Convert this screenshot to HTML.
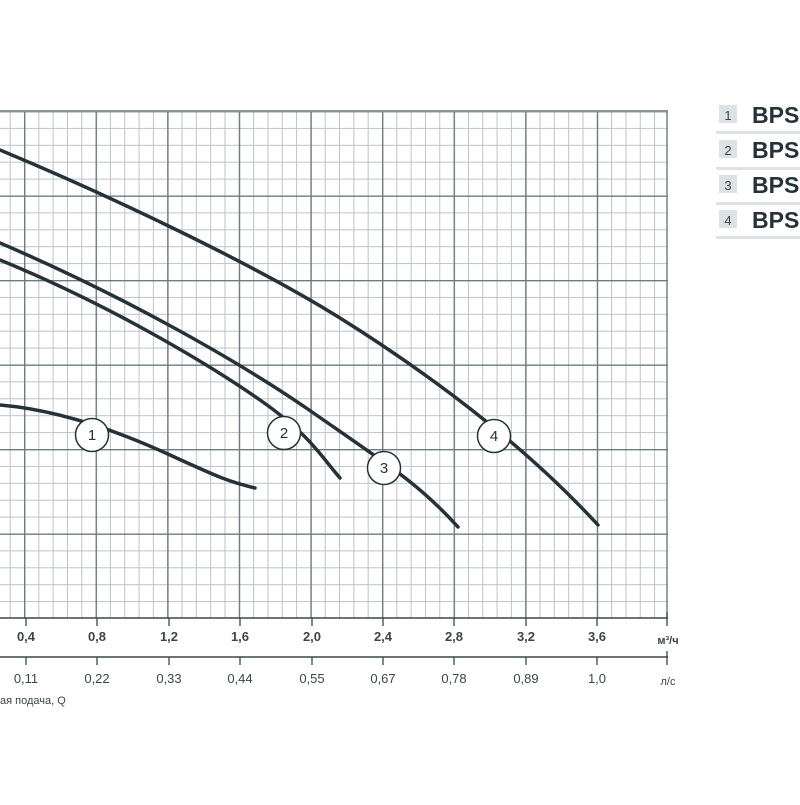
<!DOCTYPE html><html><head><meta charset="utf-8"><style>body{margin:0;background:#fff;width:800px;height:800px;overflow:hidden}</style></head><body>
<svg width="800" height="800" xmlns="http://www.w3.org/2000/svg" font-family="Liberation Sans, DejaVu Sans, sans-serif">
<defs>
<pattern id="minor" patternUnits="userSpaceOnUse" x="9.68" y="111" width="14.32" height="16.9">
<line x1="0.5" y1="0" x2="0.5" y2="16.9" stroke="#bcc3c6" stroke-width="1"/>
<line x1="0" y1="0.5" x2="14.32" y2="0.5" stroke="#bcc3c6" stroke-width="1"/>
</pattern>
<pattern id="major" patternUnits="userSpaceOnUse" x="24" y="111" width="71.6" height="84.5">
<line x1="0.7" y1="0" x2="0.7" y2="84.5" stroke="#6f7b7f" stroke-width="1.4"/>
<line x1="0" y1="0.7" x2="71.6" y2="0.7" stroke="#6f7b7f" stroke-width="1.4"/>
</pattern>
</defs>
<rect x="0" y="111" width="668" height="507" fill="url(#minor)"/>
<rect x="0" y="111" width="668" height="507" fill="url(#major)"/>
<line x1="667" y1="111" x2="667" y2="618" stroke="#6f7b7f" stroke-width="1.4"/>
<line x1="0" y1="111" x2="668" y2="111" stroke="#8a9496" stroke-width="2"/>
<line x1="0" y1="618" x2="668" y2="618" stroke="#3c4649" stroke-width="1.5"/>
<line x1="0" y1="657" x2="668" y2="657" stroke="#3c4649" stroke-width="1.5"/>
<g stroke="#3c4649" stroke-width="1.3">
<line x1="26" y1="618" x2="26" y2="626"/><line x1="97" y1="618" x2="97" y2="626"/><line x1="169" y1="618" x2="169" y2="626"/><line x1="240" y1="618" x2="240" y2="626"/><line x1="312" y1="618" x2="312" y2="626"/><line x1="383" y1="618" x2="383" y2="626"/><line x1="454" y1="618" x2="454" y2="626"/><line x1="526" y1="618" x2="526" y2="626"/><line x1="597" y1="618" x2="597" y2="626"/><line x1="667" y1="612" x2="667" y2="626"/>
<line x1="26" y1="657" x2="26" y2="665"/><line x1="97" y1="657" x2="97" y2="665"/><line x1="169" y1="657" x2="169" y2="665"/><line x1="240" y1="657" x2="240" y2="665"/><line x1="312" y1="657" x2="312" y2="665"/><line x1="383" y1="657" x2="383" y2="665"/><line x1="454" y1="657" x2="454" y2="665"/><line x1="526" y1="657" x2="526" y2="665"/><line x1="597" y1="657" x2="597" y2="665"/><line x1="667" y1="651" x2="667" y2="665"/>
</g>
<g font-size="13" font-weight="bold" fill="#3c4649" text-anchor="middle">
<text x="26" y="641">0,4</text><text x="97" y="641">0,8</text><text x="169" y="641">1,2</text><text x="240" y="641">1,6</text><text x="312" y="641">2,0</text><text x="383" y="641">2,4</text><text x="454" y="641">2,8</text><text x="526" y="641">3,2</text><text x="597" y="641">3,6</text><text x="668" y="644" font-size="11">м³/ч</text></g>
<g font-size="13" fill="#3c4649" text-anchor="middle">
<text x="26" y="683">0,11</text><text x="97" y="683">0,22</text><text x="169" y="683">0,33</text><text x="240" y="683">0,44</text><text x="312" y="683">0,55</text><text x="383" y="683">0,67</text><text x="454" y="683">0,78</text><text x="526" y="683">0,89</text><text x="597" y="683">1,0</text><text x="668" y="685" font-size="11">л/с</text></g>
<text x="0" y="704" font-size="11" fill="#3c4649">ая подача, Q</text>
<g fill="none" stroke="#253237" stroke-width="3.5" stroke-linecap="round">
<path d="M0,150 C120,200 260,268 340,318 S520,440 598,525"/>
<path d="M0,243 C110,290 230,355 312,412 S420,485 458,527"/>
<path d="M0,260 C110,305 210,365 260,400 S320,455 340,478"/>
<path d="M0,405 C60,410 120,432 170,455 S230,482 255,488"/>
</g>
<g fill="#fff" stroke="#253237" stroke-width="1.5">
<circle cx="92" cy="435" r="16.5"/><circle cx="284" cy="433" r="16.5"/><circle cx="384" cy="468" r="16.5"/><circle cx="494" cy="436" r="16.5"/></g>
<g font-size="15" fill="#253237" text-anchor="middle">
<text x="92" y="440">1</text><text x="284" y="438">2</text><text x="384" y="473">3</text><text x="494" y="441">4</text></g>
<g fill="#dde2e4"><rect x="719" y="105" width="18" height="18"/><rect x="719" y="140" width="18" height="18"/><rect x="719" y="175" width="18" height="18"/><rect x="719" y="210" width="18" height="18"/>
<rect x="716" y="131" width="84" height="3"/><rect x="716" y="167" width="84" height="3"/><rect x="716" y="202" width="84" height="3"/><rect x="716" y="236" width="84" height="3"/></g>
<g font-size="13" fill="#3c4649" text-anchor="middle"><text x="728" y="120">1</text><text x="728" y="155">2</text><text x="728" y="190">3</text><text x="728" y="225">4</text></g>
<g font-size="23" font-weight="bold" fill="#253237"><text x="752" y="123">BPS</text><text x="752" y="158">BPS</text><text x="752" y="193">BPS</text><text x="752" y="228">BPS</text></g>
</svg></body></html>
